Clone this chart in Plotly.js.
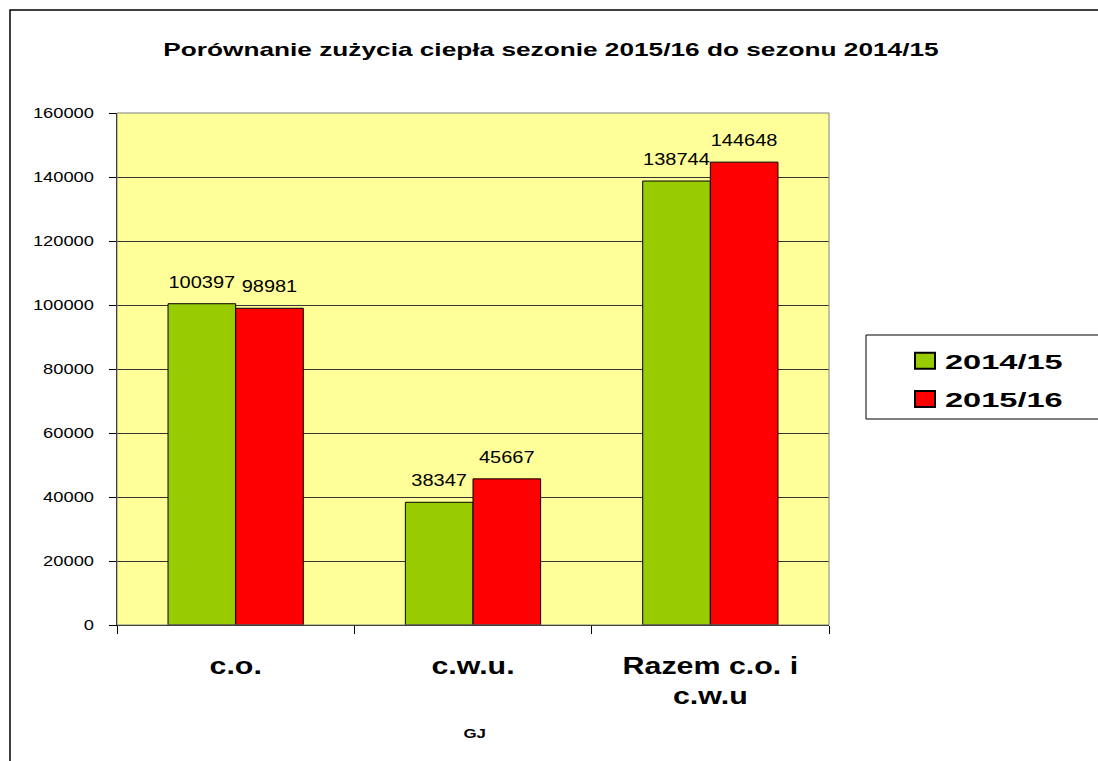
<!DOCTYPE html>
<html>
<head>
<meta charset="utf-8">
<script src="https://cdn.plot.ly/plotly-3.0.1.min.js"></script>
<style>html,body{margin:0;padding:0;background:#fff;}#chart{width:1098px;height:761px;}</style>
</head>
<body>
<div id="chart"></div>
<script>
const categories = ["c.o.", "c.w.u.", "Razem c.o. i<br>c.w.u"];
const seriesNames = ["2014/15", "2015/16"];
const values2014 = [100397, 38347, 138744];
const values2015 = [98981, 45667, 144648];
const yTicks = [0, 20000, 40000, 60000, 80000, 100000, 120000, 140000, 160000];

const FONT = "Liberation Sans, Arial, sans-serif";

const traces = [
  {
    type: "bar", name: seriesNames[0], x: categories, y: values2014, legendgroup: "a",
    marker: {color: "#99CC00", line: {color: "#000", width: 1}},
    text: values2014.map(String), textposition: "outside", cliponaxis: false,
    textfont: {family: FONT, size: 16, color: "#000"}, hoverinfo: "y"
  },
  {
    type: "bar", name: seriesNames[1], x: categories, y: values2015, legendgroup: "b",
    marker: {color: "#FF0000", line: {color: "#000", width: 1}},
    text: values2015.map(String), textposition: "outside", cliponaxis: false,
    textfont: {family: FONT, size: 16, color: "#000"}, hoverinfo: "y"
  }
];

const L = 117, R = 829, T = 113, B = 625;
const px = v => (v - L) / (R - L);
const py = v => (B - v) / (B - T);

const layout = {
  width: 1098, height: 761,
  margin: {l: L, r: 1098 - R, t: T, b: 761 - B},
  paper_bgcolor: "#fff",
  plot_bgcolor: "#FFFF99",
  font: {family: FONT, color: "#000"},
  barmode: "group", bargap: 0.43, bargroupgap: 0,
  title: {
    text: "Porównanie zużycia ciepła sezonie 2015/16 do sezonu 2014/15",
    font: {family: FONT, size: 19, color: "#000", weight: "bold"},
    x: 551 / 1098, xanchor: "center", y: 1 - 49 / 761, yanchor: "middle", xref: "container", yref: "container"
  },
  xaxis: {
    type: "category", tickson: "boundaries", ticks: "outside", ticklen: 8, tickcolor: "#000",
    showline: true, linecolor: "#000", linewidth: 1,
    tickfont: {family: FONT, size: 23, color: "#000", weight: "bold"},
    ticklabelstandoff: 20, showgrid: false, fixedrange: true
  },
  yaxis: {
    range: [0, 160000], tickvals: yTicks, ticktext: yTicks.map(String),
    ticks: "outside", ticklen: 7, tickcolor: "#000",
    showline: true, linecolor: "#000", linewidth: 1,
    showgrid: true, gridcolor: "#333", gridwidth: 1, zeroline: false,
    tickfont: {family: FONT, size: 15, color: "#000"}, ticklabelstandoff: 12, fixedrange: true
  },
  showlegend: true,
  legend: {
    x: px(905), y: py(380), xanchor: "left", yanchor: "middle",
    bgcolor: "rgba(0,0,0,0)", borderwidth: 0,
    font: {family: FONT, size: 21, color: "#000", weight: "bold"},
    tracegroupgap: 8, itemsizing: "constant"
  },
  annotations: [
    {text: "GJ", xref: "paper", yref: "paper", x: px(474), y: py(733),
     xanchor: "center", yanchor: "middle", showarrow: false,
     font: {family: FONT, size: 13, color: "#000", weight: "bold"}}
  ],
  shapes: [
    {type: "rect", xref: "paper", yref: "paper", x0: 0, x1: 1, y0: 0, y1: 1,
     line: {color: "#808080", width: 1}, fillcolor: "rgba(0,0,0,0)", layer: "above"},
    {type: "rect", xref: "paper", yref: "paper", x0: px(866), x1: px(1110), y0: py(419), y1: py(335),
     line: {color: "#000", width: 1}, fillcolor: "#fff", layer: "below"},
    {type: "rect", xref: "paper", yref: "paper", x0: px(10), x1: px(1110), y0: py(775), y1: py(10),
     line: {color: "#000", width: 1.5}, fillcolor: "rgba(0,0,0,0)", layer: "below"}
  ]
};

function stretch(sel, f) {
  document.querySelectorAll(sel).forEach(t => {
    const lines = t.querySelectorAll("tspan.line");
    const targets = lines.length ? Array.from(lines) : [t];
    targets.forEach(el => {
      const w = el.getComputedTextLength();
      if (w > 0) {
        el.setAttribute("textLength", (w * f).toFixed(1));
        el.setAttribute("lengthAdjust", "spacingAndGlyphs");
      }
    });
  });
}

Plotly.newPlot("chart", traces, layout, {displayModeBar: false, staticPlot: true}).then(() => {
  stretch(".gtitle", 1.38);
  stretch(".ytick text", 1.22);
  stretch(".xtick text", 1.32);
  stretch("text.bartext", 1.25);
  stretch(".legendtext", 1.55);
  stretch(".annotation-text", 1.3);
  document.querySelectorAll("text.bartext").forEach(el => {
    el.setAttribute("transform", (el.getAttribute("transform") || "") + " translate(0,-10)");
  });
  document.querySelectorAll(".legendpoints path").forEach(p => {
    p.setAttribute("d", "M10,8H-10V-8H10Z");
  });
  document.querySelectorAll(".legend [clip-path]").forEach(el => el.removeAttribute("clip-path"));
  document.querySelectorAll(".legend").forEach(el => el.removeAttribute("clip-path"));
});
</script>
</body>
</html>
